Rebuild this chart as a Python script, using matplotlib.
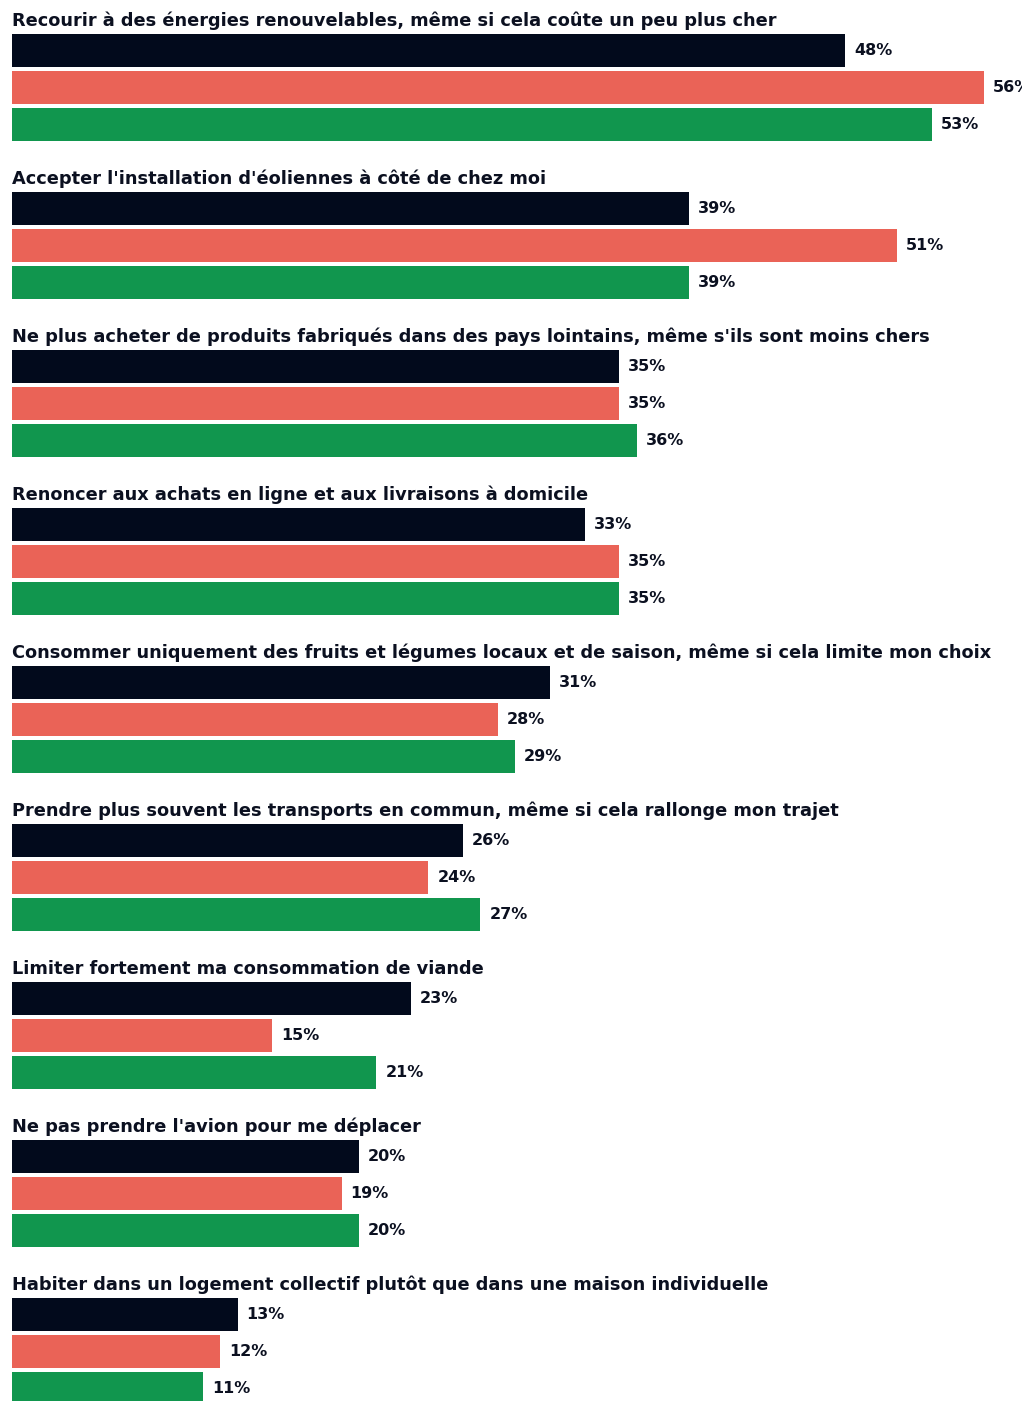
import matplotlib
matplotlib.use('Agg')
import matplotlib.pyplot as plt

# Questions (one group of three bars each)
questions = [
    "Recourir à des énergies renouvelables, même si cela coûte un peu plus cher",
    "Accepter l'installation d'éoliennes à côté de chez moi",
    "Ne plus acheter de produits fabriqués dans des pays lointains, même s'ils sont moins chers",
    "Renoncer aux achats en ligne et aux livraisons à domicile",
    "Consommer uniquement des fruits et légumes locaux et de saison, même si cela limite mon choix",
    "Prendre plus souvent les transports en commun, même si cela rallonge mon trajet",
    "Limiter fortement ma consommation de viande",
    "Ne pas prendre l'avion pour me déplacer",
    "Habiter dans un logement collectif plutôt que dans une maison individuelle",
]

# Three series (dark, red, green)
series_dark = [48, 39, 35, 33, 31, 26, 23, 20, 13]
series_red = [56, 51, 35, 35, 28, 24, 15, 19, 12]
series_green = [53, 39, 36, 35, 29, 27, 21, 20, 11]

colors = ['#020a1c', '#ea6357', '#11964e']
text_color = '#0b1020'

plt.rcParams['font.family'] = ['DejaVu Sans']

fig = plt.figure(figsize=(10.22, 14.01), dpi=100)
ax = fig.add_axes([0, 0, 1, 1])

px_per_pct = 17.35
x0 = 12
ax.set_xlim(-x0 / px_per_pct, (1022 - x0) / px_per_pct)
ax.set_ylim(1401, 0)
ax.axis('off')

group_pitch = 158
bar_pitch = 37
bar_h = 33
first_center = 50.5

for g, q in enumerate(questions):
    base = first_center + g * group_pitch
    vals = [series_dark[g], series_red[g], series_green[g]]
    ax.text(0, base - 30, q, fontsize=12.75, fontweight='bold', color=text_color,
            ha='left', va='center')
    for i, v in enumerate(vals):
        y = base + i * bar_pitch
        ax.barh(y, v, height=bar_h, color=colors[i], left=0)
        ax.annotate(f"{v}%", xy=(v, y), xytext=(6.5, 0), textcoords='offset points',
                    ha='left', va='center', fontsize=11.5, fontweight='bold',
                    color=text_color)

fig.savefig('out.png', dpi=100)
